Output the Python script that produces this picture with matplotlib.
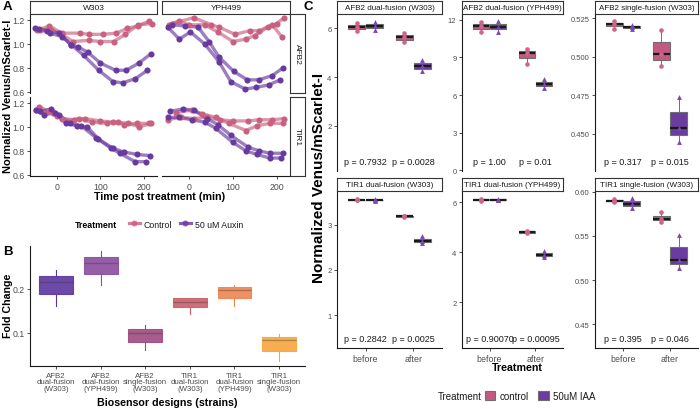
import matplotlib
matplotlib.use("Agg")
import matplotlib.pyplot as plt
from matplotlib.lines import Line2D
from matplotlib.patches import Patch
from matplotlib.ticker import FormatStrFormatter
from matplotlib.transforms import blended_transform_factory

plt.rcParams['font.family'] = ['Liberation Sans', 'DejaVu Sans']

# ---------------- panel A: time courses (min, normalized ratio) ----------------
w303_afb2_ctrl_t = [[-47, -18, 11, 52, 73, 106, 137, 162, 187, 212], [-40, -15, 11, 36, 73, 98, 131, 158, 187, 220]]
w303_afb2_ctrl_v = [[1.115, 1.15, 1.09, 1.09, 1.08, 1.08, 1.09, 1.13, 1.15, 1.19], [1.12, 1.12, 1.08, 1.02, 1.03, 1.02, 1.02, 1.08, 1.16, 1.17]]
w303_afb2_aux_t = [[-51, -24, 5, 32, 48, 71, 100, 135, 160, 189, 216], [-43, -16, 11, 32, 61, 96, 129, 152, 181, 209]]
w303_afb2_aux_v = [[1.135, 1.11, 1.09, 0.99, 0.975, 0.93, 0.84, 0.78, 0.78, 0.84, 0.915], [1.125, 1.09, 1.06, 0.995, 0.905, 0.78, 0.685, 0.675, 0.71, 0.78]]

yph_afb2_ctrl_t = [[-48, -25, 0, 35, 65, 100, 130, 150, 180, 200, 218], [-40, 10, 50, 68, 105, 138, 160, 190, 212]]
yph_afb2_ctrl_v = [[1.16, 1.19, 1.16, 1.16, 1.10, 1.02, 1.04, 1.07, 1.14, 1.17, 1.22], [1.17, 1.22, 1.16, 1.14, 1.08, 1.11, 1.11, 1.16, 1.06]]
yph_afb2_aux_t = [[-39, -10, 20, 45, 68, 102, 133, 159, 190, 215], [-50, -23, 2, 35, 68, 95, 128, 153, 182, 208]]
yph_afb2_aux_v = [[1.16, 1.15, 1.14, 1.02, 0.89, 0.77, 0.70, 0.70, 0.735, 0.80], [1.14, 1.04, 1.10, 1.00, 0.85, 0.685, 0.623, 0.637, 0.657, 0.70]]

w303_tir1_ctrl_t = [[-48, -30, -10, 10, 40, 65, 100, 130, 155, 185, 212], [-42, -20, 0, 20, 50, 80, 115, 140, 165, 190, 218]]
w303_tir1_ctrl_v = [[1.14, 1.12, 1.12, 1.07, 1.06, 1.07, 1.05, 1.04, 1.02, 1.03, 1.03], [1.17, 1.13, 1.09, 1.05, 1.07, 1.04, 1.03, 1.04, 1.03, 1.00, 1.03]]
w303_tir1_aux_t = [[-50, -30, -5, 20, 45, 70, 95, 130, 155, 185, 215], [-40, -15, 5, 30, 55, 90, 125, 145, 180, 205]]
w303_tir1_aux_v = [[1.14, 1.10, 1.12, 1.03, 1.01, 1.00, 0.90, 0.82, 0.79, 0.77, 0.76], [1.13, 1.15, 1.10, 1.03, 1.01, 0.91, 0.82, 0.78, 0.71, 0.71]]

yph_tir1_ctrl_t = [[-50, -20, 10, 40, 70, 100, 135, 160, 190, 218], [-30, 5, 30, 60, 90, 130, 155, 185, 215]]
yph_tir1_ctrl_v = [[1.06, 1.08, 1.07, 1.08, 1.06, 1.05, 1.05, 1.06, 1.06, 1.07], [1.12, 1.14, 1.11, 1.08, 1.03, 0.97, 1.01, 1.03, 1.03]]
yph_tir1_aux_t = [[-45, -15, 10, 40, 65, 95, 135, 160, 185, 215], [-50, -25, 5, 35, 60, 100, 130, 155, 185, 210]]
yph_tir1_aux_v = [[1.13, 1.15, 1.14, 1.07, 1.02, 0.93, 0.83, 0.80, 0.78, 0.78], [1.08, 1.08, 1.06, 1.04, 0.99, 0.87, 0.80, 0.77, 0.74, 0.74]]

a_strains = ['W303', 'YPH499']
a_receptors = ['AFB2', 'TIR1']

# ---------------- panel B: fold change boxes ----------------
b_labels = ['AFB2\ndual-fusion\n(W303)', 'AFB2\ndual-fusion\n(YPH499)', 'AFB2\nsingle-fusion\n(W303)',
            'TIR1\ndual-fusion\n(W303)', 'TIR1\ndual-fusion\n(YPH499)', 'TIR1\nsingle-fusion\n(W303)']
b_whislo = [0.162, 0.209, 0.060, 0.143, 0.162, 0.037]
b_q1 = [0.188, 0.233, 0.079, 0.159, 0.180, 0.058]
b_med = [0.215, 0.258, 0.100, 0.171, 0.198, 0.084]
b_q3 = [0.230, 0.273, 0.108, 0.179, 0.204, 0.090]
b_whishi = [0.242, 0.285, 0.117, 0.179, 0.209, 0.097]

# ---------------- panel C: before / after replicates ----------------
c_titles = ['AFB2 dual-fusion (W303)', 'AFB2 dual-fusion (YPH499)', 'AFB2 single-fusion (W303)',
            'TIR1 dual-fusion (W303)', 'TIR1 dual-fusion (YPH499)', 'TIR1 single-fusion (W303)']
c_groups = ['before', 'after']
c_ctrl = [
    [[5.88, 6.07, 6.22], [5.43, 5.63, 5.80]],
    [[11.0, 11.47, 11.84], [8.5, 9.39, 9.7]],
    [[0.5182, 0.5212, 0.5228], [0.4942, 0.5019, 0.5172]],
    [[3.54, 3.55, 3.56], [3.17, 3.19, 3.20]],
    [[6.05, 6.10, 6.14], [4.76, 4.82, 4.87]],
    [[0.5885, 0.590, 0.5915], [0.566, 0.5693, 0.5769]],
]
c_iaa = [
    [[5.94, 6.09, 6.27], [4.24, 4.44, 4.70]],
    [[11.06, 11.43, 11.87], [6.58, 6.86, 7.30]],
    [[0.5180, 0.5193, 0.5208], [0.4446, 0.4541, 0.4739]],
    [[3.53, 3.545, 3.56], [2.60, 2.64, 2.74]],
    [[6.08, 6.10, 6.13], [3.82, 3.89, 4.07]],
    [[0.5815, 0.5864, 0.593], [0.514, 0.523, 0.551]],
]
c_pvals = [['p = 0.7932', 'p = 0.0028'], ['p = 1.00', 'p = 0.01'], ['p = 0.317', 'p = 0.015'],
           ['p = 0.2842', 'p = 0.0025'], ['p = 0.90070', 'p = 0.00095'], ['p = 0.395', 'p = 0.046']]
c_yticks = [[2, 4, 6], [0, 3, 6, 9, 12], [0.450, 0.475, 0.500, 0.525],
            [1, 2, 3], [2, 4, 6], [0.45, 0.50, 0.55, 0.60]]
c_yfmt = ['%g', '%g', '%.3f', '%g', '%g', '%.2f']
c_ylim = [(0.14, 6.59), (-0.05, 12.46), (0.426, 0.5276), (0.27, 3.745), (0.17, 6.45), (0.423, 0.601)]

# ---------------- styling ----------------
CTRL = '#C9607F'
AUX = '#683AA0'
B_COLORS = ['#5B36A0', '#8A4E9E', '#9E4A7E', '#C8606A', '#EF8550', '#F9A43E']
C_CTRL_FILL = '#C45A82'
C_IAA_FILL = '#6A3CA0'
C_CTRL_PT = '#D0628C'
C_IAA_PT = '#7B47B3'

W, H = 700, 410
fig = plt.figure(figsize=(7, 4.1), dpi=100)


def px_axes(x0, y0, x1, y1):
    return fig.add_axes([x0 / W, 1 - y1 / H, (x1 - x0) / W, (y1 - y0) / H])


def strip(x0, y0, x1, y1, text, rot=0, size=6):
    ax = px_axes(x0, y0, x1, y1)
    ax.set_xticks([])
    ax.set_yticks([])
    for s in ax.spines.values():
        s.set_color('#333333')
        s.set_linewidth(0.8)
    ax.text(0.5, 0.5, text, rotation=rot, ha='center', va='center', fontsize=size,
            color='#1a1a1a', transform=ax.transAxes)
    return ax


def style_axes(ax, left=True, bottom=True, tick_size=6.2):
    ax.spines['top'].set_visible(False)
    ax.spines['right'].set_visible(False)
    ax.spines['left'].set_visible(left)
    ax.spines['bottom'].set_visible(bottom)
    for s in ['left', 'bottom']:
        ax.spines[s].set_linewidth(0.8)
        ax.spines[s].set_color('#1a1a1a')
    ax.tick_params(length=2.5, width=0.6, color='#333333', labelcolor='#4d4d4d',
                   labelsize=tick_size, pad=1.5)
    if not left:
        ax.tick_params(axis='y', left=False, labelleft=False)
    if not bottom:
        ax.tick_params(axis='x', bottom=False, labelbottom=False)
    ax.patch.set_alpha(0)


def fig_text(x, y, s, **kw):
    return fig.text(x / W, 1 - y / H, s, **kw)


# ================= panel A =================
a_series = [
    [(w303_afb2_ctrl_t, w303_afb2_ctrl_v, w303_afb2_aux_t, w303_afb2_aux_v),
     (yph_afb2_ctrl_t, yph_afb2_ctrl_v, yph_afb2_aux_t, yph_afb2_aux_v)],
    [(w303_tir1_ctrl_t, w303_tir1_ctrl_v, w303_tir1_aux_t, w303_tir1_aux_v),
     (yph_tir1_ctrl_t, yph_tir1_ctrl_v, yph_tir1_aux_t, yph_tir1_aux_v)],
]
a_cols = [(30, 157), (162, 290)]
a_rows = [(15, 94), (98, 177)]

for r, (y0, y1) in enumerate(a_rows):
    for c, (x0, x1) in enumerate(a_cols):
        ax = px_axes(x0, y0, x1, y1)
        ct, cv, xt, xv = a_series[r][c]
        for t, v in zip(ct, cv):
            ax.plot(t, v, color=CTRL, lw=2.4, alpha=0.65, solid_capstyle='round')
        for t, v in zip(xt, xv):
            ax.plot(t, v, color=AUX, lw=2.4, alpha=0.65, solid_capstyle='round')
        for t, v in zip(ct, cv):
            ax.plot(t, v, 'o', color=CTRL, ms=4.4, mew=0)
        for t, v in zip(xt, xv):
            ax.plot(t, v, 'o', color=AUX, ms=4.4, mew=0)
        ax.set_xlim(-63, 231)
        ax.set_ylim(0.59, 1.25)
        ax.set_xticks([0, 100, 200])
        ax.set_yticks([0.6, 0.8, 1.0, 1.2])
        ax.yaxis.set_major_formatter(FormatStrFormatter('%.1f'))
        style_axes(ax, left=(c == 0), bottom=(r == 1), tick_size=6.3)

for c, (x0, x1) in enumerate(a_cols):
    strip(x0, 2, x1, 15, a_strains[c], size=6)
for r, (y0, y1) in enumerate(a_rows):
    strip(290, y0, 305, y1, a_receptors[r], rot=-90, size=6)

fig_text(3, 7, 'A', fontsize=9.5, fontweight='bold', va='center')
fig_text(8, 96, 'Normalized Venus/mScarlet-I', rotation=90, fontsize=8, fontweight='bold',
         ha='center', va='center')
fig_text(160, 197, 'Time post treatment (min)', fontsize=7.7, fontweight='bold', ha='center', va='center')

fig_text(75, 225, 'Treatment', fontsize=6.3, fontweight='bold', va='center')
a_handles = [Line2D([0], [0], color=CTRL, lw=2.3, alpha=0.8, marker='o', ms=4.3, mew=0),
             Line2D([0], [0], color=AUX, lw=2.3, alpha=0.8, marker='o', ms=4.3, mew=0)]
fig.legend(a_handles, ['Control', '50 uM Auxin'], loc='center left', bbox_to_anchor=(121 / W, 1 - 225 / H),
           ncol=2, frameon=False, fontsize=6.3, handlelength=1.25, handletextpad=0.45, columnspacing=0.9,
           labelcolor='#1a1a1a')

# ================= panel B =================
axb = px_axes(30, 247, 305, 367)
stats = [dict(whislo=b_whislo[i], q1=b_q1[i], med=b_med[i], q3=b_q3[i], whishi=b_whishi[i])
         for i in range(len(b_labels))]
bp = axb.bxp(stats, positions=range(1, len(b_labels) + 1), widths=0.76, patch_artist=True,
             showfliers=False, showcaps=False)
for i, col in enumerate(B_COLORS):
    bp['boxes'][i].set(facecolor=col, alpha=0.9, edgecolor=col, linewidth=0.8)
    bp['medians'][i].set(color='#333333', linewidth=1.0, alpha=0.35)
    for w in bp['whiskers'][2 * i:2 * i + 2]:
        w.set(color=col, linewidth=0.8)
axb.set_xlim(0.42, 6.58)
axb.set_ylim(0.0246, 0.2974)
axb.set_yticks([0.1, 0.2])
axb.set_xticks(range(1, len(b_labels) + 1))
axb.set_xticklabels(b_labels, linespacing=0.95)
style_axes(axb, tick_size=6.3)
axb.tick_params(axis='x', labelsize=5.7)

fig_text(3, 252, 'B', fontsize=9.5, fontweight='bold', va='center')
fig_text(8, 306, 'Fold Change', rotation=90, fontsize=7.7, fontweight='bold', ha='center', va='center')
fig_text(167, 403, 'Biosensor designs (strains)', fontsize=7.7, fontweight='bold', ha='center', va='center')

# ================= panel C =================
c_cols = [(337, 442), (462, 563), (595, 698)]
c_rows = [(15, 172), (192, 349)]
c_strip_rows = [(2, 15), (179, 192)]
dodge = 0.1875

for k in range(len(c_titles)):
    r, c = divmod(k, 3)
    x0, x1 = c_cols[c]
    y0, y1 = c_rows[r]
    ax = px_axes(x0, y0, x1, y1)
    for vals, off, fill in [(c_ctrl[k], -dodge, C_CTRL_FILL), (c_iaa[k], dodge, C_IAA_FILL)]:
        pos = [g + 1 + off for g in range(len(c_groups))]
        bp = ax.boxplot(vals, positions=pos, widths=0.36, whis=(0, 100), patch_artist=True,
                        showcaps=False, showfliers=False, manage_ticks=False)
        for b in bp['boxes']:
            b.set(facecolor=fill, edgecolor='#6e6e6e', linewidth=0.8)
        for m in bp['medians']:
            m.set(color='#1a1a1a', linewidth=1.6)
        for w in bp['whiskers']:
            w.set(color='#6e6e6e', linewidth=0.7)
    for g in range(len(c_groups)):
        ax.plot([g + 1 - dodge] * len(c_ctrl[k][g]), c_ctrl[k][g], 'o', color=C_CTRL_PT, ms=3.3, mew=0, zorder=5)
        ax.plot([g + 1 + dodge] * len(c_iaa[k][g]), c_iaa[k][g], '^', color=C_IAA_PT, ms=3.5, mew=0, zorder=5)
    trans = blended_transform_factory(ax.transData, ax.transAxes)
    for g in range(len(c_groups)):
        ax.text(g + 1, 0.06, c_pvals[k][g], transform=trans, ha='center', va='center',
                fontsize=6.5, color='#1a1a1a')
    ax.set_xlim(0.4, 2.6)
    ax.set_ylim(c_ylim[k])
    ax.set_yticks(c_yticks[k])
    ax.yaxis.set_major_formatter(FormatStrFormatter(c_yfmt[k]))
    ax.set_xticks([1, 2])
    ax.set_xticklabels(c_groups)
    style_axes(ax, left=True, bottom=(r == 1), tick_size=5.5)
    ax.tick_params(axis='x', labelsize=6.4)
    sy0, sy1 = c_strip_rows[r]
    strip(x0, sy0, x1, sy1, c_titles[k], size=5.8)

fig_text(303, 7, 'C', fontsize=9.5, fontweight='bold', va='center')
fig_text(319, 178, 'Normalized Venus/mScarlet-I', rotation=90, fontsize=11, fontweight='bold',
         ha='center', va='center')
fig_text(517, 368, 'Treatment', fontsize=7.7, fontweight='bold', ha='center', va='center')

fig_text(438, 397, 'Treatment', fontsize=7, va='center', color='#1a1a1a')
c_handles = [Patch(facecolor=C_CTRL_FILL, edgecolor='#6e6e6e', linewidth=0.8),
             Patch(facecolor=C_IAA_FILL, edgecolor='#6e6e6e', linewidth=0.8)]
fig.legend(c_handles, ['control', '50uM IAA'], loc='center left', bbox_to_anchor=(476 / W, 1 - 397 / H),
           ncol=2, frameon=False, fontsize=7, handlelength=1.1, handleheight=1.1, handletextpad=0.4,
           columnspacing=1.0, labelcolor='#1a1a1a')

fig.savefig('out.png', dpi=100)
